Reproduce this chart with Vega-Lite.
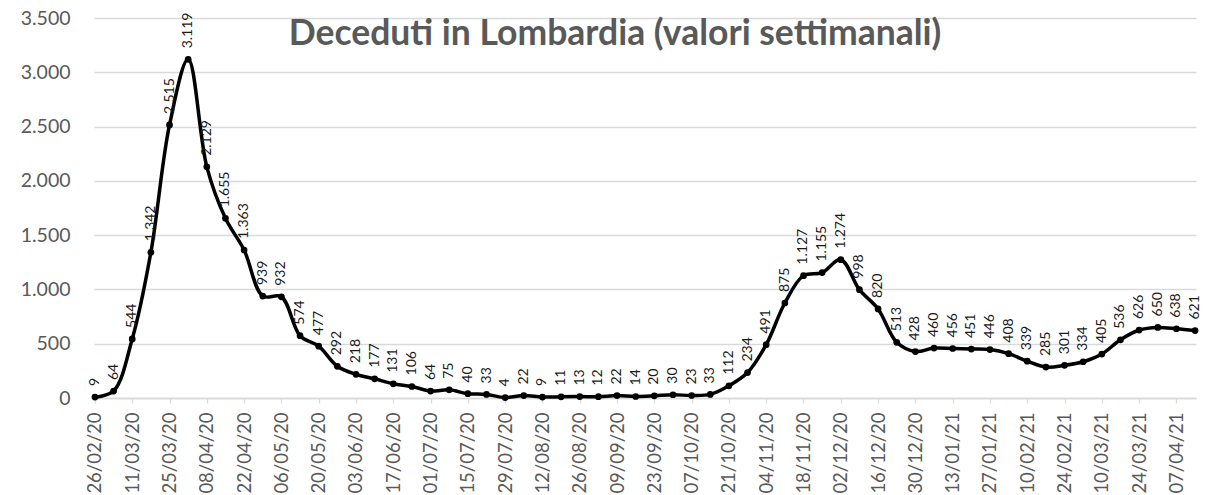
{
  "$schema": "https://vega.github.io/schema/vega-lite/v6.json",
  "autosize": "none",
  "width": 1102,
  "height": 380,
  "padding": {"left": 94, "top": 18, "right": 25, "bottom": 97},
  "background": "white",
  "title": {
    "text": "Deceduti in Lombardia (valori settimanali)",
    "anchor": "middle",
    "orient": "top",
    "frame": "group",
    "offset": 0,
    "baseline": "top",
    "dy": 44,
    "dx": -30,
    "font": "Lato",
    "fontSize": 35.5,
    "fontWeight": "bold",
    "color": "#595959"
  },
  "config": {
    "locale": {"number": {"decimal": ",", "thousands": ".", "grouping": [3], "currency": ["€", ""]}},
    "view": {"stroke": null},
    "font": "Lato"
  },
  "data": {
    "values": [
      {"d": "26/02/20", "v": 9}, {"d": "04/03/20", "v": 64}, {"d": "11/03/20", "v": 544}, {"d": "18/03/20", "v": 1342},
      {"d": "25/03/20", "v": 2515}, {"d": "01/04/20", "v": 3119}, {"d": "08/04/20", "v": 2129}, {"d": "15/04/20", "v": 1655},
      {"d": "22/04/20", "v": 1363}, {"d": "29/04/20", "v": 939}, {"d": "06/05/20", "v": 932}, {"d": "13/05/20", "v": 574},
      {"d": "20/05/20", "v": 477}, {"d": "27/05/20", "v": 292}, {"d": "03/06/20", "v": 218}, {"d": "10/06/20", "v": 177},
      {"d": "17/06/20", "v": 131}, {"d": "24/06/20", "v": 106}, {"d": "01/07/20", "v": 64}, {"d": "08/07/20", "v": 75},
      {"d": "15/07/20", "v": 40}, {"d": "22/07/20", "v": 33}, {"d": "29/07/20", "v": 4}, {"d": "05/08/20", "v": 22},
      {"d": "12/08/20", "v": 9}, {"d": "19/08/20", "v": 11}, {"d": "26/08/20", "v": 13}, {"d": "02/09/20", "v": 12},
      {"d": "09/09/20", "v": 22}, {"d": "16/09/20", "v": 14}, {"d": "23/09/20", "v": 20}, {"d": "30/09/20", "v": 30},
      {"d": "07/10/20", "v": 23}, {"d": "14/10/20", "v": 33}, {"d": "21/10/20", "v": 112}, {"d": "28/10/20", "v": 234},
      {"d": "04/11/20", "v": 491}, {"d": "11/11/20", "v": 875}, {"d": "18/11/20", "v": 1127}, {"d": "25/11/20", "v": 1155},
      {"d": "02/12/20", "v": 1274}, {"d": "09/12/20", "v": 998}, {"d": "16/12/20", "v": 820}, {"d": "23/12/20", "v": 513},
      {"d": "30/12/20", "v": 428}, {"d": "06/01/21", "v": 460}, {"d": "13/01/21", "v": 456}, {"d": "20/01/21", "v": 451},
      {"d": "27/01/21", "v": 446}, {"d": "03/02/21", "v": 408}, {"d": "10/02/21", "v": 339}, {"d": "17/02/21", "v": 285},
      {"d": "24/02/21", "v": 301}, {"d": "03/03/21", "v": 334}, {"d": "10/03/21", "v": 405}, {"d": "17/03/21", "v": 536},
      {"d": "24/03/21", "v": 626}, {"d": "31/03/21", "v": 650}, {"d": "07/04/21", "v": 638}, {"d": "14/04/21", "v": 621}
    ]
  },
  "encoding": {
    "x": {
      "field": "d",
      "type": "ordinal",
      "sort": null,
      "scale": {"type": "point", "padding": 0.05},
      "axis": {
        "title": null,
        "values": ["26/02/20", "11/03/20", "25/03/20", "08/04/20", "22/04/20", "06/05/20", "20/05/20", "03/06/20", "17/06/20", "01/07/20", "15/07/20", "29/07/20", "12/08/20", "26/08/20", "09/09/20", "23/09/20", "07/10/20", "21/10/20", "04/11/20", "18/11/20", "02/12/20", "16/12/20", "30/12/20", "13/01/21", "27/01/21", "10/02/21", "24/02/21", "10/03/21", "24/03/21", "07/04/21"],
        "labelAngle": -90,
        "labelFont": "Lato",
        "labelFontSize": 18.5,
        "labelColor": "#595959",
        "labelPadding": 9,
        "tickSize": 5,
        "tickColor": "#d9d9d9",
        "tickWidth": 1.3,
        "domainColor": "#d9d9d9",
        "domainWidth": 1.5,
        "grid": false
      }
    },
    "y": {
      "field": "v",
      "type": "quantitative",
      "scale": {"domain": [0, 3500], "nice": false},
      "axis": {
        "title": null,
        "values": [0, 500, 1000, 1500, 2000, 2500, 3000, 3500],
        "format": ",d",
        "labelFont": "Lato",
        "labelFontSize": 19.5,
        "labelColor": "#595959",
        "labelPadding": 24,
        "ticks": false,
        "domain": false,
        "grid": true,
        "gridColor": "#d9d9d9",
        "gridWidth": 1.5
      }
    }
  },
  "layer": [
    {"mark": {"type": "line", "interpolate": "catmull-rom", "color": "black", "strokeWidth": 3.5}},
    {"mark": {"type": "point", "filled": true, "color": "black", "opacity": 1, "size": 45}},
    {
      "mark": {"type": "text", "angle": 270, "align": "left", "baseline": "middle", "dx": 11, "font": "Lato", "fontSize": 14, "color": "#1a1a1a"},
      "encoding": {"text": {"field": "v", "type": "quantitative", "format": ",d"}}
    }
  ]
}
